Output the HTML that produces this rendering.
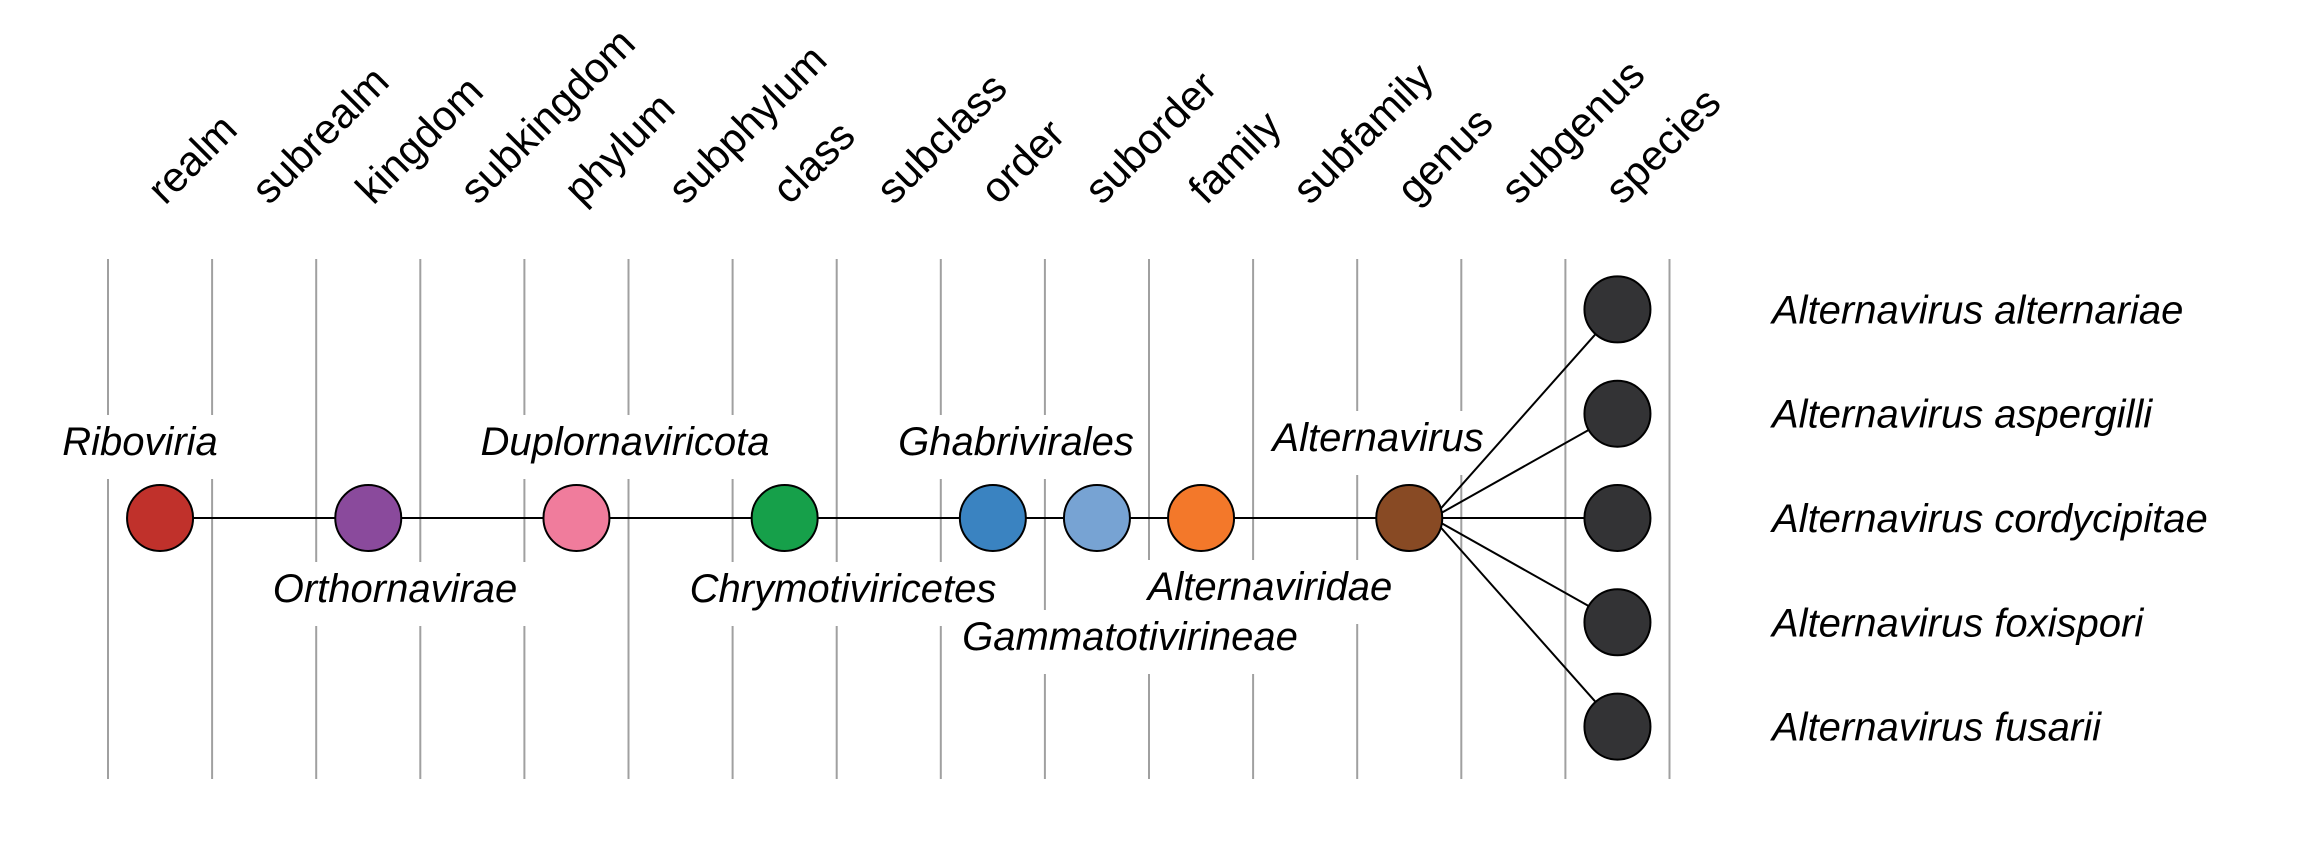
<!DOCTYPE html>
<html><head><meta charset="utf-8"><style>html,body{margin:0;padding:0;background:#fff}svg{display:block}</style></head>
<body>
<svg id="chart" width="2305" height="863" xmlns="http://www.w3.org/2000/svg" font-family="Liberation Sans, Arial, sans-serif">
<g id="grid"></g>
<g id="masks"></g>
<g id="ranks"></g>
<g id="edges"></g>
<g id="nodes"></g>
<g id="labels"></g>
</svg>
<script>
const ranks = ["realm","subrealm","kingdom","subkingdom","phylum","subphylum","class","subclass","order","suborder","family","subfamily","genus","subgenus","species"];
const taxa = ["Riboviria","Orthornavirae","Duplornaviricota","Chrymotiviricetes","Ghabrivirales","Gammatotivirineae","Alternaviridae","Alternavirus"];
const taxonRank = [0,2,4,6,8,9,10,12];
const taxonColors = ["#c0312b","#8a4a9c","#f07c9c","#16a04a","#3a83c1","#77a3d3","#f3782a","#884a24"];
const labelCenterX = [140,395,625,843,1016,1130,1270,1378];
const labelBaseline = [455,602,455,602,455,650,600,451];
const species = ["Alternavirus alternariae","Alternavirus aspergilli","Alternavirus cordycipitae","Alternavirus foxispori","Alternavirus fusarii"];
const speciesRow = [-2,-1,0,1,2];

const NS="http://www.w3.org/2000/svg";
const x0=108, colW=104.1, rowY=518, rowH=104.3, R=33, gTop=259, gBot=779;
const colX=i=>x0+colW*(i+0.5);
const rowYf=r=>rowY+rowH*r;
function mk(tag,parent,attrs){const e=document.createElementNS(NS,tag);for(const k in attrs)e.setAttribute(k,attrs[k]);parent.appendChild(e);return e;}
const G=id=>document.getElementById(id);

for(let i=0;i<=ranks.length;i++){
  const l=mk('line',G('grid'),{x1:x0+colW*i,x2:x0+colW*i,y1:gTop,y2:gBot,stroke:'#a0a0a0','stroke-width':2});
  
  
}
ranks.forEach((r,i)=>{
  const x=colX(i)+5, y=206;
  const t=mk('text',G('ranks'),{x:x,y:y,'font-size':42,transform:`rotate(-45 ${x} ${y})`,fill:'#000'});
  t.textContent=r;
  
  
});
const gx=colX(12);
const e0=mk('line',G('edges'),{x1:colX(0),x2:gx,y1:rowY,y2:rowY,stroke:'#000','stroke-width':2});


speciesRow.forEach((r,i)=>{
  const e=mk('line',G('edges'),{x1:gx+R*0.7,y1:rowY,x2:colX(14),y2:rowYf(r),stroke:'#000','stroke-width':2});
  
  
});
taxa.forEach((name,i)=>{
  const t=mk('text',G('labels'),{x:labelCenterX[i],y:labelBaseline[i],'font-size':40,'font-style':'italic','text-anchor':'middle',fill:'#000'});
  t.textContent=name;
  
  
  const b=t.getBBox();
  const m=mk('rect',G('masks'),{x:b.x-14,y:labelBaseline[i]-40,width:b.width+28,height:64,fill:'#fff'});
  
  
});
taxa.forEach((name,i)=>{
  const c=mk('circle',G('nodes'),{cx:colX(taxonRank[i]),cy:rowY,r:R,fill:taxonColors[i],stroke:'#000','stroke-width':2});
  
  
});
species.forEach((s,i)=>{
  const c=mk('circle',G('nodes'),{cx:colX(14),cy:rowYf(speciesRow[i]),r:R,fill:'#333335',stroke:'#000','stroke-width':2});
  
  
  const t=mk('text',G('labels'),{x:1772,y:rowYf(speciesRow[i])+14,'font-size':40,'font-style':'italic',fill:'#000'});
  t.textContent=s;
  
  
});
</script>
</body></html>
